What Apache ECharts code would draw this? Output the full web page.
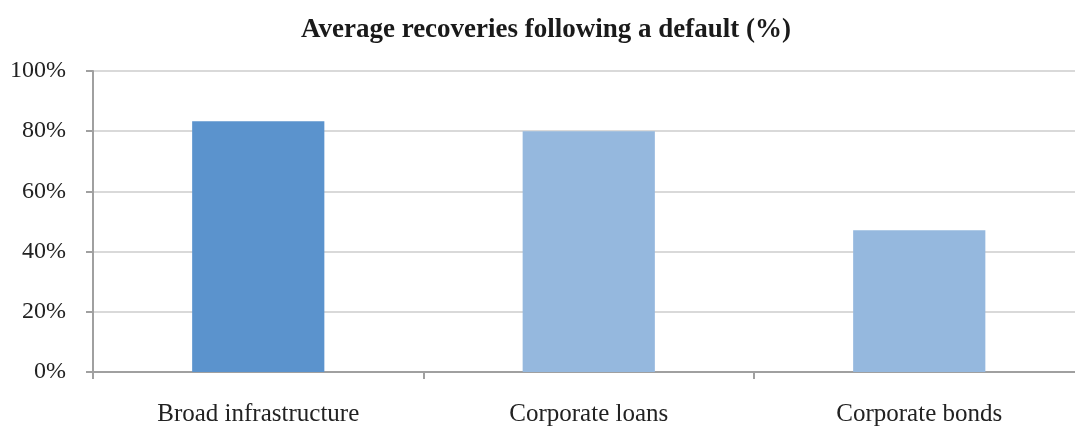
<!DOCTYPE html>
<html>
<head>
<meta charset="utf-8">
<script src="https://cdn.jsdelivr.net/npm/echarts@6/dist/echarts.min.js"></script>
<style>html,body{margin:0;padding:0;background:#fff;overflow:hidden;width:1075px;height:427px;}#c{width:1085px;height:427px;}</style>
</head>
<body>
<div id="c"></div>
<script>
const title = 'Average recoveries following a default (%)';
const categories = ['Broad infrastructure', 'Corporate loans', 'Corporate bonds'];
const values = [83.3, 80.0, 47.1];
const barColors = ['#5B93CD', '#95B8DE', '#95B8DE'];
const yTicks = [0, 20, 40, 60, 80, 100];

const chart = echarts.init(document.getElementById('c'), null, {renderer: 'canvas'});
const font = '"Liberation Serif", "DejaVu Serif", serif';
chart.setOption({
  animation: false,
  backgroundColor: '#fff',
  title: {
    text: title, left: 541, top: 12, textAlign: 'center',
    textStyle: {fontFamily: font, fontSize: 27, fontWeight: 'bold', color: '#1a1a1a'}
  },
  grid: {left: 93, top: 71, right: 0.5, bottom: 55, containLabel: false},
  xAxis: {
    type: 'category', data: categories,
    axisLine: {lineStyle: {color: '#A0A0A0', width: 2}},
    axisTick: {show: true, length: 7, lineStyle: {color: '#A0A0A0', width: 2}},
    axisLabel: {fontFamily: font, fontSize: 25, color: '#222', margin: 30}
  },
  yAxis: {
    type: 'value', min: 0, max: 100, interval: 20,
    axisLine: {show: true, lineStyle: {color: '#A0A0A0', width: 2}},
    axisTick: {show: true, length: 7, lineStyle: {color: '#A0A0A0', width: 2}},
    splitLine: {lineStyle: {color: '#D9D9D9', width: 2}},
    axisLabel: {fontFamily: font, fontSize: 24, color: '#222', margin: 27,
      formatter: v => yTicks.includes(v) ? v + '%' : ''}
  },
  series: [{
    type: 'bar', barWidth: '40%',
    data: values.map((v, i) => ({value: v, itemStyle: {color: barColors[i]}}))
  }]
});
</script>
</body>
</html>
